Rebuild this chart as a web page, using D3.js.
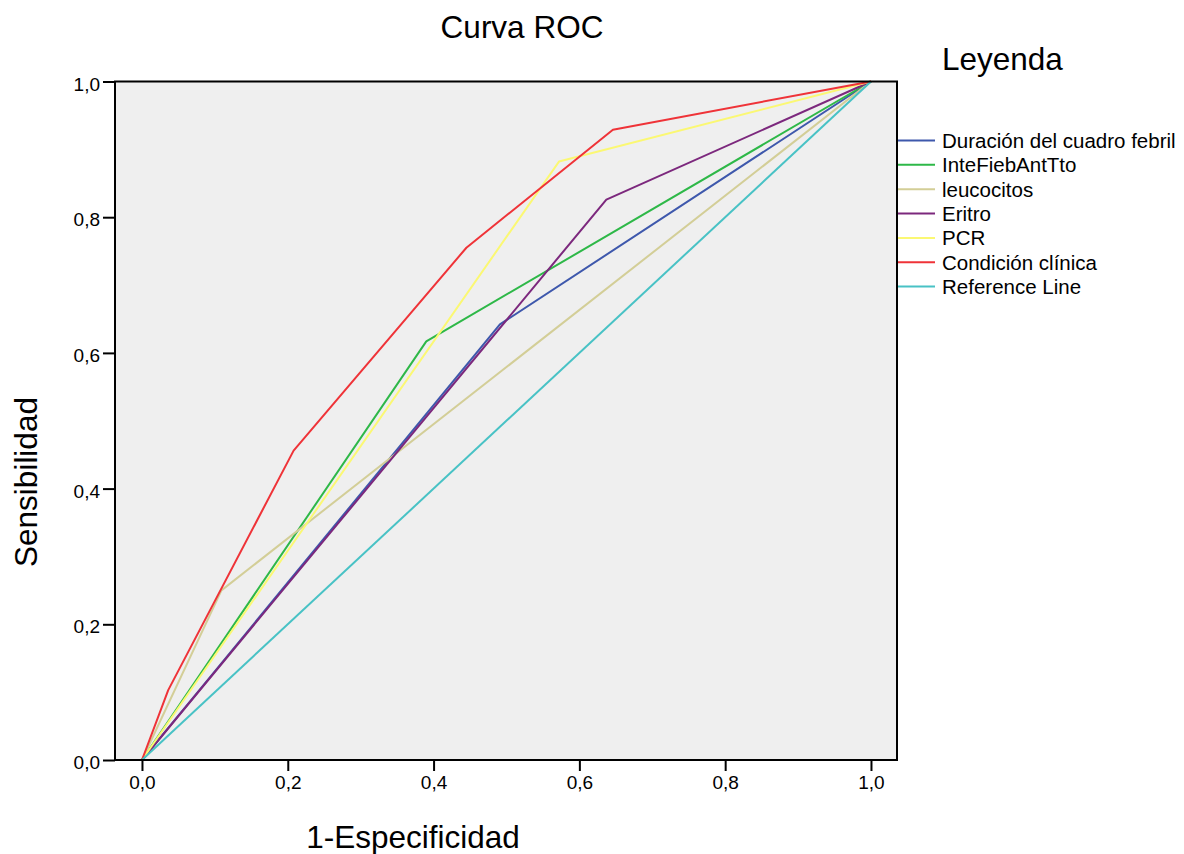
<!DOCTYPE html>
<html>
<head>
<meta charset="utf-8">
<script src="https://cdn.jsdelivr.net/npm/d3@7"></script>
<style>
  body { margin: 0; background: #ffffff; }
  text { font-family: "Liberation Sans", Arial, sans-serif; fill: #000; }
</style>
</head>
<body>
<div id="chart"></div>
<script>
// series names (legend order)
const seriesNames = [
  "Duración del cuadro febril",
  "InteFiebAntTto",
  "leucocitos",
  "Eritro",
  "PCR",
  "Condición clínica",
  "Reference Line"
];
const seriesColors = ["#3e58ac", "#2eb848", "#d3ce97", "#7c287d", "#fbf873", "#ef3338", "#48c2c5"];

// 1-Especificidad (x) and Sensibilidad (y) per curve
const fprDuracion = [0, 0.491, 1];
const tprDuracion = [0, 0.642, 1];
const fprInte = [0, 0.390, 1];
const tprInte = [0, 0.617, 1];
const fprLeuco = [0, 0.109, 1];
const tprLeuco = [0, 0.250, 1];
const fprEritro = [0, 0.637, 1];
const tprEritro = [0, 0.826, 1];
const fprPCR = [0, 0.572, 1];
const tprPCR = [0, 0.882, 1];
const fprCondicion = [0, 0.036, 0.208, 0.445, 0.646, 1];
const tprCondicion = [0, 0.103, 0.456, 0.755, 0.929, 1];
const fprRef = [0, 1];
const tprRef = [0, 1];

const tickValues = [0, 0.2, 0.4, 0.6, 0.8, 1.0];

const curves = [
  [fprDuracion, tprDuracion],
  [fprInte, tprInte],
  [fprLeuco, tprLeuco],
  [fprEritro, tprEritro],
  [fprPCR, tprPCR],
  [fprCondicion, tprCondicion],
  [fprRef, tprRef]
].map((c, i) => ({
  name: seriesNames[i],
  color: seriesColors[i],
  points: c[0].map((x, j) => ({ x: x, y: c[1][j] }))
}));

const width = 1184, height = 854;
const frame = { left: 115, right: 897, top: 81.5, bottom: 760 };

const svg = d3.select("#chart").append("svg")
  .attr("width", width)
  .attr("height", height);

// scales (x axis padded on both sides inside the frame)
const x = d3.scaleLinear().domain([-0.037, 1.0357]).range([frame.left, frame.right]);
const y = d3.scaleLinear().domain([0, 1]).range([frame.bottom, frame.top]);

const fmt = d => d3.format(".1f")(d).replace(".", ",");

// plot background
svg.append("rect")
  .attr("x", frame.left)
  .attr("y", frame.top)
  .attr("width", frame.right - frame.left)
  .attr("height", frame.bottom - frame.top)
  .attr("fill", "#efefef");

// curves
const line = d3.line().x(d => x(d.x)).y(d => y(d.y));
svg.append("g")
  .selectAll("path")
  .data(curves)
  .join("path")
  .attr("d", d => line(d.points))
  .attr("fill", "none")
  .attr("stroke", d => d.color)
  .attr("stroke-width", 2)
  .attr("stroke-linejoin", "round");

// frame
svg.append("rect")
  .attr("x", frame.left)
  .attr("y", frame.top)
  .attr("width", frame.right - frame.left)
  .attr("height", frame.bottom - frame.top)
  .attr("fill", "none")
  .attr("stroke", "#000")
  .attr("stroke-width", 2);

// x axis
const xAxis = svg.append("g")
  .attr("transform", `translate(0,${frame.bottom})`)
  .call(d3.axisBottom(x).tickValues(tickValues).tickFormat(fmt).tickSize(11).tickPadding(5));
xAxis.select(".domain").remove();
xAxis.selectAll(".tick line").attr("stroke", "#000").attr("stroke-width", 2);
xAxis.selectAll(".tick text")
  .style("font-family", "'Liberation Sans', Arial, sans-serif")
  .style("font-size", "19px");

// y axis
const yAxis = svg.append("g")
  .attr("transform", `translate(${frame.left},0)`)
  .call(d3.axisLeft(y).tickValues(tickValues).tickFormat(fmt).tickSize(12).tickPadding(3));
yAxis.select(".domain").remove();
yAxis.selectAll(".tick line").attr("stroke", "#000").attr("stroke-width", 2);
yAxis.selectAll(".tick text")
  .attr("dy", "0.45em")
  .style("font-family", "'Liberation Sans', Arial, sans-serif")
  .style("font-size", "19px");

// title
svg.append("text")
  .attr("x", 522)
  .attr("y", 38)
  .attr("text-anchor", "middle")
  .attr("font-size", 31.5)
  .text("Curva ROC");

// axis titles
svg.append("text")
  .attr("x", 413)
  .attr("y", 848)
  .attr("text-anchor", "middle")
  .attr("font-size", 31.5)
  .text("1-Especificidad");

svg.append("text")
  .attr("transform", "translate(37,482) rotate(-90)")
  .attr("text-anchor", "middle")
  .attr("font-size", 31.5)
  .text("Sensibilidad");

// legend
svg.append("text")
  .attr("x", 942)
  .attr("y", 70)
  .attr("font-size", 31.5)
  .text("Leyenda");

const legend = svg.append("g").attr("transform", "translate(898,140.5)");
const item = legend.selectAll("g")
  .data(curves)
  .join("g")
  .attr("transform", (d, i) => `translate(0,${i * 24.35})`);
item.append("line")
  .attr("x1", 0)
  .attr("x2", 37)
  .attr("stroke", d => d.color)
  .attr("stroke-width", 2);
item.append("text")
  .attr("x", 44)
  .attr("dy", "0.36em")
  .attr("font-size", 20.5)
  .text(d => d.name);
</script>
</body>
</html>
